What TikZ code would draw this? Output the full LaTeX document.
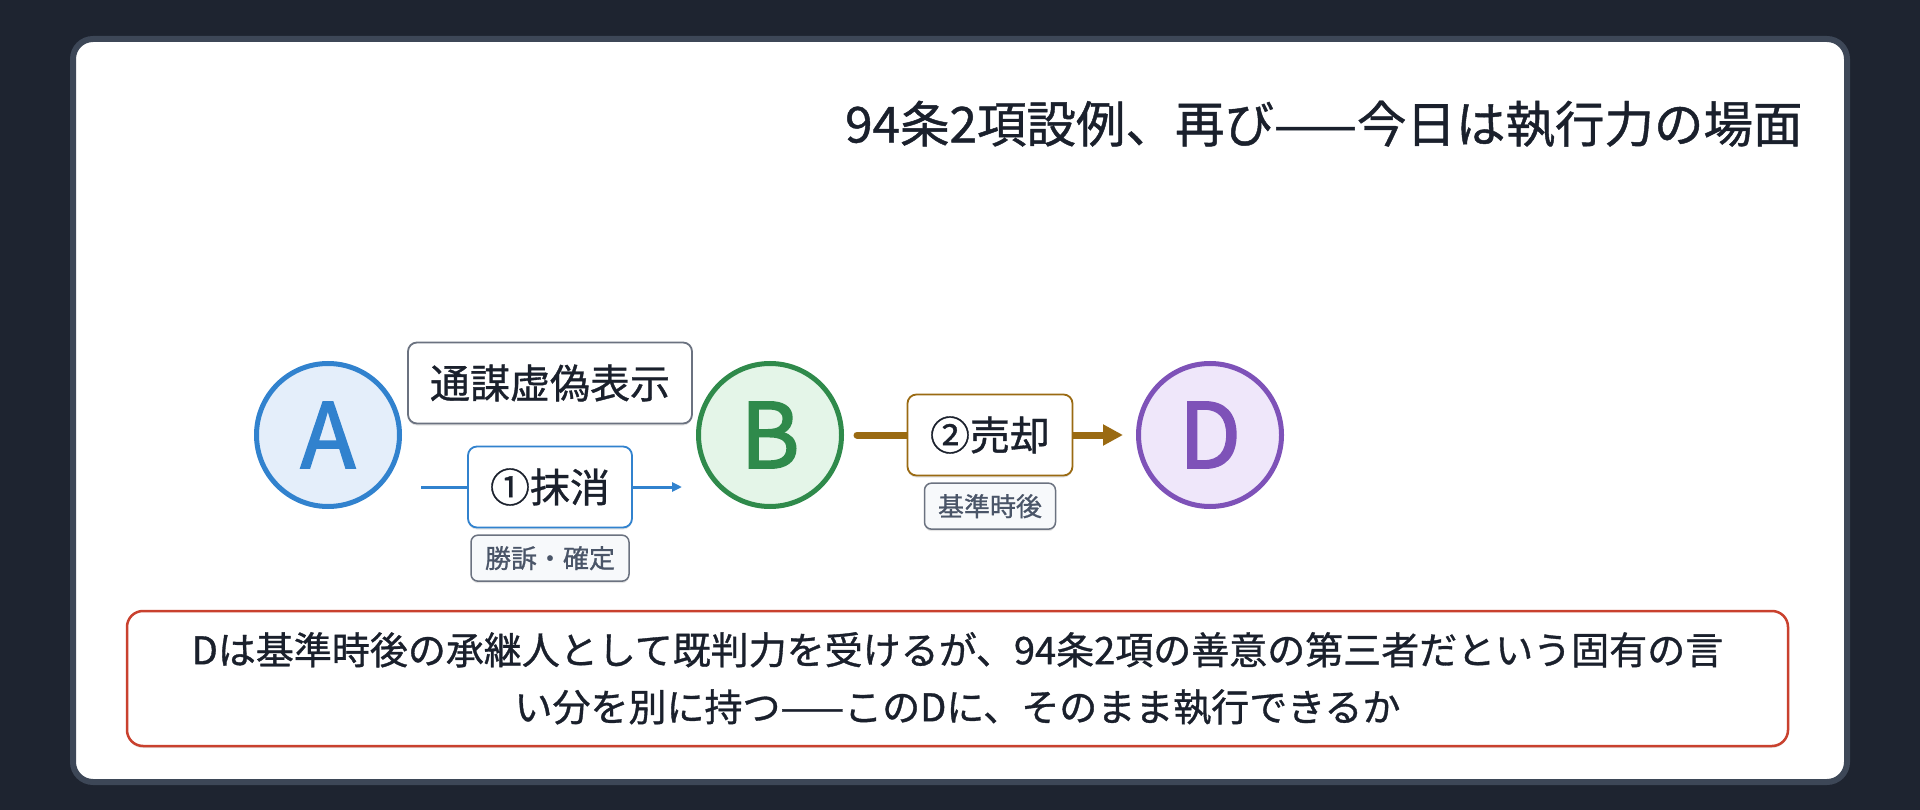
\documentclass[tikz,border=0pt]{standalone}
\usepackage{fontspec}
\setmainfont{Noto Sans CJK JP}
\newfontfamily\medfont[FakeBold=0.9]{Noto Sans CJK JP}
\newfontfamily\heavyfont[FakeBold=2.2]{Noto Sans CJK JP}
\usepackage{xcolor}
\usepackage{tikz}
\usetikzlibrary{arrows.meta, positioning, shadows}

\definecolor{bgdark}{HTML}{1E2430}
\definecolor{panelline}{HTML}{3D4757}
\definecolor{inkdark}{HTML}{1A202C}
\definecolor{partyA}{HTML}{3182CE}
\definecolor{partyAfill}{HTML}{E4EEFA}
\definecolor{partyB}{HTML}{2F8A4B}
\definecolor{partyBfill}{HTML}{E4F5E8}
\definecolor{partyD}{HTML}{7E52B8}
\definecolor{partyDfill}{HTML}{EFE7FA}
\definecolor{sellbrown}{HTML}{9A6A12}
\definecolor{boxgray}{HTML}{6B7280}
\definecolor{tagfill}{HTML}{F7F9FB}
\definecolor{taggray}{HTML}{4A5568}
\definecolor{alertred}{HTML}{C9412E}

\begin{document}
\begin{tikzpicture}[
      x=1pt, y=-1pt,
      softshadow/.style={drop shadow={shadow xshift=0pt, shadow yshift=-2pt, opacity=0.10, fill=black}},
      party/.style={circle, draw, line width=5pt, minimum size=143pt, inner sep=0pt, softshadow, font=\heavyfont\fontsize{90}{90}\selectfont},
      actbox/.style={draw, rectangle, rounded corners=9pt, fill=white, line width=1.8pt, minimum height=81pt, inner sep=0pt, softshadow, text=inkdark, font=\medfont\fontsize{40}{40}\selectfont},
      tagbox/.style={draw=boxgray, rectangle, rounded corners=7pt, fill=tagfill, line width=1.5pt, minimum height=46pt, inner sep=0pt, softshadow, text=taggray, font=\medfont\fontsize{26}{26}\selectfont},
      voidarrow/.style={-{Triangle[length=10pt, width=9pt]}, draw=partyA, line width=3pt},
      sellarrow/.style={-{Triangle[length=20pt, width=20pt]}, draw=sellbrown, line width=7pt, line cap=round}
  ]
      % Background and panel
      \fill[bgdark] (0,0) rectangle (1920,810);
      \draw[panelline, fill=white, line width=6pt, rounded corners=20pt] (73,39) rectangle (1847,782);

      % Title
      \node[anchor=east, text=inkdark, font=\medfont\fontsize{49.5}{49.5}\selectfont] (title) at (1806,124) {94条2項設例、再び——今日は執行力の場面};

      % Parties
      \node[party, draw=partyA, fill=partyAfill, text=partyA] (A) at (328,435) {A};
      \node[party, draw=partyB, fill=partyBfill, text=partyB] (B) at (770,435) {B};
      \node[party, draw=partyD, fill=partyDfill, text=partyD] (D) at (1210,435) {D};

      % Connectors
      \draw[voidarrow] ([xshift=19pt, yshift=-52pt]A.east) -- ([xshift=-14pt, yshift=-52pt]B.west);
      \draw[sellarrow] ([xshift=13pt]B.east) -- ([xshift=-13pt]D.west);

      % A -- B
      \node[actbox, draw=boxgray, minimum width=284pt] (sham) at (550,383) {通謀虚偽表示};
      \node[actbox, draw=partyA, minimum width=164pt] (cancel) at (550,487) {①抹消};
      \node[tagbox, minimum width=158pt, below=6pt of cancel] (win) {勝訴・確定};

      % B -- D
      \node[actbox, draw=sellbrown, minimum width=165pt] (sale) at (990,435) {②売却};
      \node[tagbox, minimum width=131pt, below=6pt of sale] (after) {基準時後};

      % Question
      \node[draw=alertred, fill=white, line width=2.5pt, rounded corners=16pt, minimum width=1661pt, minimum height=135pt, softshadow, align=center, text=inkdark, font=\medfont\fontsize{38}{57}\selectfont] (question) at (957.5,678.5) {Dは基準時後の承継人として既判力を受けるが、94条2項の善意の第三者だという固有の言\\い分を別に持つ——このDに、そのまま執行できるか};
  \end{tikzpicture}
\end{document}
